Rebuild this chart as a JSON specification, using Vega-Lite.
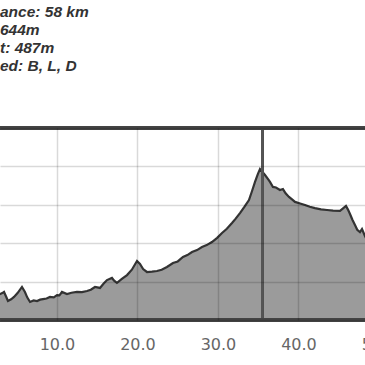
{
  "$schema": "https://vega.github.io/schema/vega-lite/v6.json",
  "width": 383,
  "height": 192,
  "autosize": {"type": "none"},
  "padding": {"left": 0, "top": 128, "right": -18, "bottom": 45},
  "background": "white",
  "config": {"view": {"stroke": null}},
  "title": {
    "text": ["ance: 58 km", "644m", "t: 487m", "ed: B, L, D"],
    "anchor": "start",
    "frame": "group",
    "font": "Liberation Sans",
    "fontSize": 15.5,
    "fontStyle": "italic",
    "fontWeight": "bold",
    "color": "#333333",
    "lineHeight": 18.2,
    "offset": 51.5
  },
  "data": {
    "values": [
      {"km": 2.4, "elev": 146}, {"km": 2.92, "elev": 135}, {"km": 3.2, "elev": 140}, {"km": 3.42, "elev": 146},
      {"km": 3.7, "elev": 120}, {"km": 3.91, "elev": 99}, {"km": 4.3, "elev": 108}, {"km": 4.66, "elev": 120},
      {"km": 5.1, "elev": 140}, {"km": 5.65, "elev": 172}, {"km": 6.02, "elev": 146}, {"km": 6.3, "elev": 118},
      {"km": 6.65, "elev": 94}, {"km": 7.1, "elev": 102}, {"km": 7.52, "elev": 99}, {"km": 7.9, "elev": 106},
      {"km": 8.26, "elev": 109}, {"km": 8.7, "elev": 112}, {"km": 9.13, "elev": 120}, {"km": 9.6, "elev": 118},
      {"km": 10.0, "elev": 130}, {"km": 10.3, "elev": 128}, {"km": 10.62, "elev": 146}, {"km": 11.24, "elev": 135},
      {"km": 11.8, "elev": 142}, {"km": 12.48, "elev": 146}, {"km": 13.1, "elev": 145}, {"km": 13.73, "elev": 151},
      {"km": 14.2, "elev": 158}, {"km": 14.72, "elev": 172}, {"km": 15.34, "elev": 167}, {"km": 15.8, "elev": 190},
      {"km": 16.21, "elev": 208}, {"km": 16.83, "elev": 219}, {"km": 17.1, "elev": 205}, {"km": 17.45, "elev": 193},
      {"km": 18.1, "elev": 215}, {"km": 18.7, "elev": 234}, {"km": 19.3, "elev": 262}, {"km": 19.94, "elev": 307},
      {"km": 20.31, "elev": 292}, {"km": 20.7, "elev": 265}, {"km": 21.18, "elev": 250}, {"km": 21.8, "elev": 252},
      {"km": 22.42, "elev": 255}, {"km": 23.0, "elev": 262}, {"km": 23.66, "elev": 276}, {"km": 24.41, "elev": 297},
      {"km": 25.0, "elev": 305}, {"km": 25.65, "elev": 328}, {"km": 26.2, "elev": 338}, {"km": 26.77, "elev": 354},
      {"km": 27.4, "elev": 364}, {"km": 28.01, "elev": 380}, {"km": 28.6, "elev": 390}, {"km": 29.25, "elev": 406},
      {"km": 29.9, "elev": 428}, {"km": 30.5, "elev": 453}, {"km": 31.1, "elev": 475}, {"km": 31.74, "elev": 505},
      {"km": 32.2, "elev": 528}, {"km": 32.73, "elev": 557}, {"km": 33.3, "elev": 590}, {"km": 33.85, "elev": 625},
      {"km": 34.2, "elev": 668}, {"km": 34.6, "elev": 719}, {"km": 34.95, "elev": 760}, {"km": 35.22, "elev": 786},
      {"km": 35.5, "elev": 772}, {"km": 35.84, "elev": 755}, {"km": 36.2, "elev": 735}, {"km": 36.46, "elev": 719},
      {"km": 36.83, "elev": 693}, {"km": 37.2, "elev": 690}, {"km": 37.7, "elev": 677}, {"km": 38.07, "elev": 682},
      {"km": 38.4, "elev": 660}, {"km": 38.82, "elev": 641}, {"km": 39.2, "elev": 628}, {"km": 39.57, "elev": 615},
      {"km": 40.2, "elev": 607}, {"km": 40.81, "elev": 599}, {"km": 41.4, "elev": 590}, {"km": 42.05, "elev": 583},
      {"km": 42.8, "elev": 576}, {"km": 43.54, "elev": 573}, {"km": 44.3, "elev": 570}, {"km": 45.16, "elev": 568},
      {"km": 45.5, "elev": 580}, {"km": 45.9, "elev": 594}, {"km": 46.15, "elev": 575}, {"km": 46.4, "elev": 552},
      {"km": 46.7, "elev": 522}, {"km": 47.02, "elev": 495}, {"km": 47.3, "elev": 470}, {"km": 47.64, "elev": 458},
      {"km": 47.89, "elev": 474}, {"km": 48.26, "elev": 437}, {"km": 48.7, "elev": 400}, {"km": 49.13, "elev": 365},
      {"km": 50.6, "elev": 300}
    ]
  },
  "layer": [
    {
      "mark": {"type": "area", "color": "#9b9b9b", "opacity": 1, "clip": true},
      "encoding": {
        "x": {
          "field": "km", "type": "quantitative",
          "scale": {"domain": [2.92, 50.5], "nice": false, "zero": false},
          "axis": {
            "values": [0, 10, 20, 30, 40, 50],
            "format": ".1f",
            "title": null,
            "grid": true,
            "gridColor": "#000000",
            "gridOpacity": 0.15,
            "gridWidth": 1.5,
            "ticks": false,
            "domain": false,
            "labelFont": "DejaVu Sans",
            "labelFontSize": 16,
            "labelColor": "#666666",
            "labelPadding": 16,
            "zindex": 1
          }
        },
        "y": {
          "field": "elev", "type": "quantitative",
          "scale": {"domain": [0, 1000], "nice": false},
          "axis": {
            "tickCount": 5,
            "labelOverlap": false,
            "title": null,
            "grid": true,
            "gridColor": "#000000",
            "gridOpacity": 0.15,
            "gridWidth": 1.5,
            "ticks": false,
            "domain": false,
            "labels": false,
            "zindex": 1
          }
        }
      }
    },
    {
      "mark": {"type": "line", "color": "#333333", "strokeWidth": 2.2, "clip": true},
      "encoding": {
        "x": {"field": "km", "type": "quantitative"},
        "y": {"field": "elev", "type": "quantitative"}
      }
    },
    {
      "mark": {"type": "rule", "color": "#555555", "strokeWidth": 2},
      "encoding": {"x": {"datum": 35.5, "type": "quantitative"}}
    },
    {
      "mark": {"type": "rule", "color": "#444444", "strokeWidth": 3},
      "encoding": {"y": {"datum": 1000, "type": "quantitative"}}
    },
    {
      "mark": {"type": "rule", "color": "#444444", "strokeWidth": 3},
      "encoding": {"y": {"datum": 0, "type": "quantitative"}}
    }
  ]
}
